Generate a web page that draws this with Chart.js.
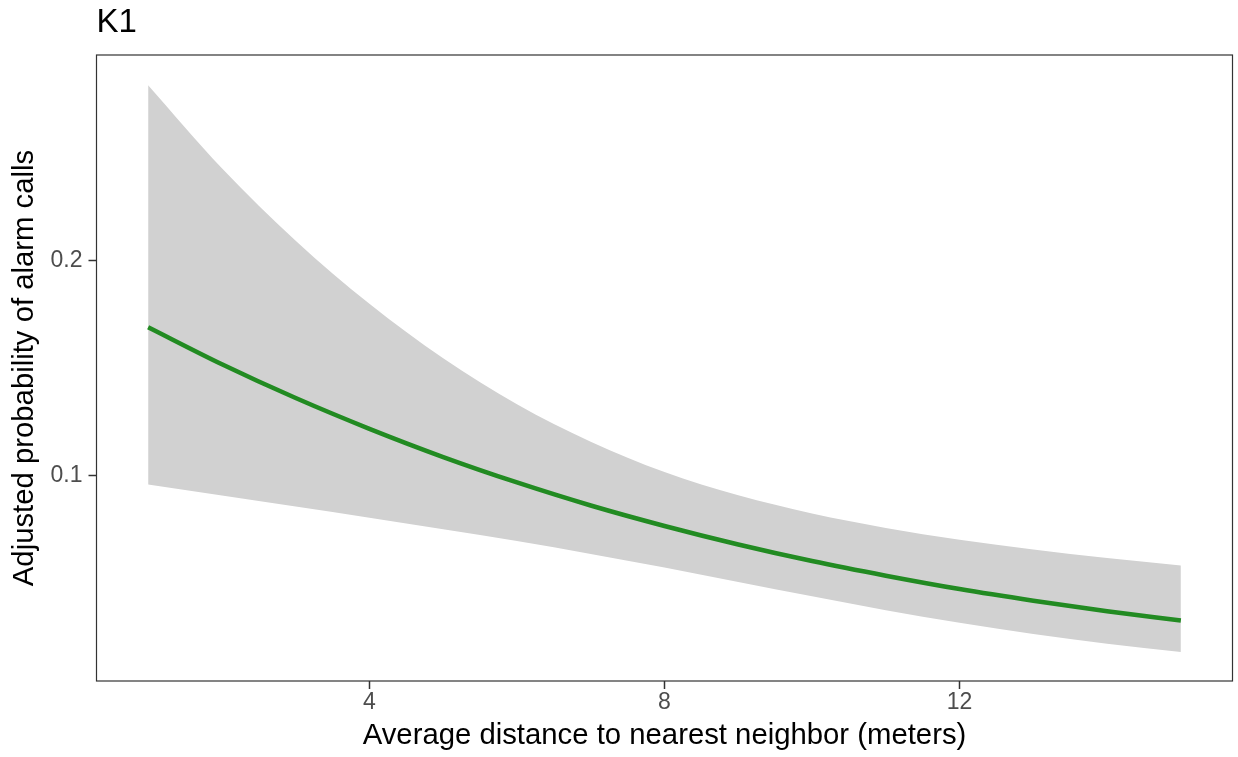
<!DOCTYPE html>
<html>
<head>
<meta charset="utf-8">
<title>K1</title>
<script src="https://cdn.jsdelivr.net/npm/chart.js@4.4.1/dist/chart.umd.min.js"></script>
<style>
  html, body { margin: 0; padding: 0; background: #ffffff; }
  canvas { display: block; }
</style>
</head>
<body>
<canvas id="chart_k1" width="1238" height="757"></canvas>
<script>
// values
var distance = [1, 2, 3, 4, 5, 6, 7, 8, 9, 10, 11, 12, 13, 14, 15];
var probFit = [0.1691, 0.1519, 0.1362, 0.1219, 0.1088, 0.0970, 0.0863, 0.0768, 0.0682, 0.0605, 0.0537, 0.0475, 0.0421, 0.0372, 0.0329];
var probUpper = [0.2815, 0.2429, 0.2093, 0.1800, 0.1547, 0.1333, 0.1159, 0.1018, 0.0910, 0.0826, 0.0759, 0.0704, 0.0659, 0.0619, 0.0584];
var probLower = [0.0960, 0.0909, 0.0858, 0.0806, 0.0753, 0.0698, 0.0638, 0.0575, 0.0508, 0.0441, 0.0377, 0.0318, 0.0266, 0.0221, 0.0183];
var xTicks = [4, 8, 12];
var yTicks = [0.1, 0.2];

var fontFamily = '"Liberation Sans", Arial, Helvetica, sans-serif';

function toPoints(ys) {
    return distance.map(function (d, i) { return { x: d, y: ys[i] }; });
}

// panel border like ggplot's theme_bw
var panelBorder = {
    id: 'panelBorder',
    afterDatasetsDraw: function (chart) {
        var a = chart.chartArea;
        var c = chart.ctx;
        c.save();
        c.strokeStyle = '#333333';
        c.lineWidth = 1.2;
        c.strokeRect(a.left, a.top, a.right - a.left, a.bottom - a.top);
        c.restore();
    }
};

var ctx = document.getElementById('chart_k1').getContext('2d');
var chart = new Chart(ctx, {
    type: 'line',

    data: {
        datasets: [{
            label: 'Fit',
            data: toPoints(probFit),
            borderColor: '#228B22',
            borderWidth: 4.5,
            pointRadius: 0,
            fill: false,
            cubicInterpolationMode: 'monotone'
        }, {
            label: 'Upper',
            data: toPoints(probUpper),
            borderWidth: 0,
            borderColor: 'rgba(0,0,0,0)',
            backgroundColor: '#d1d1d1',
            pointRadius: 0,
            fill: '+1',
            cubicInterpolationMode: 'monotone'
        }, {
            label: 'Lower',
            data: toPoints(probLower),
            borderWidth: 0,
            borderColor: 'rgba(0,0,0,0)',
            pointRadius: 0,
            fill: false,
            cubicInterpolationMode: 'monotone'
        }]
    },

    options: {
        responsive: false,
        animation: false,
        devicePixelRatio: 1,
        layout: {
            padding: { left: 0, right: 5.5, top: 0, bottom: 0 }
        },
        plugins: {
            legend: { display: false },
            tooltip: { enabled: false },
            title: {
                display: true,
                text: 'K1',
                align: 'start',
                fullSize: false,
                color: '#000000',
                font: { family: fontFamily, size: 33, weight: 'normal', lineHeight: 1.2 },
                padding: { top: 3, bottom: 12.4 }
            }
        },
        scales: {
            x: {
                type: 'linear',
                min: 0.3,
                max: 15.7,
                afterBuildTicks: function (scale) {
                    scale.ticks = xTicks.map(function (v) { return { value: v }; });
                },
                afterFit: function (scale) { scale.height = 76; },
                border: { display: false },
                grid: {
                    drawOnChartArea: false,
                    drawTicks: true,
                    tickLength: 8,
                    tickColor: '#333333',
                    tickWidth: 1.5
                },
                ticks: {
                    color: '#4d4d4d',
                    padding: 0,
                    maxRotation: 0,
                    font: { family: fontFamily, size: 23 },
                    callback: function (v) { return String(v); }
                },
                title: {
                    display: true,
                    text: 'Average distance to nearest neighbor (meters)',
                    color: '#000000',
                    font: { family: fontFamily, size: 29.3, lineHeight: 1.2 },
                    padding: { top: 0, bottom: 3.5 }
                }
            },
            y: {
                type: 'linear',
                min: 0.0048,
                max: 0.2955,
                afterBuildTicks: function (scale) {
                    scale.ticks = yTicks.map(function (v) { return { value: v }; });
                },
                afterFit: function (scale) { scale.width = 96.5; },
                border: { display: false },
                grid: {
                    drawOnChartArea: false,
                    drawTicks: true,
                    tickLength: 8,
                    tickColor: '#333333',
                    tickWidth: 1.5
                },
                ticks: {
                    color: '#4d4d4d',
                    padding: 6,
                    font: { family: fontFamily, size: 23 },
                    callback: function (v) { return v.toFixed(1); }
                },
                title: {
                    display: true,
                    text: 'Adjusted probability of alarm calls',
                    color: '#000000',
                    font: { family: fontFamily, size: 29.3, lineHeight: 1.2 },
                    padding: { top: 7.6, bottom: 0 }
                }
            }
        }
    },
    plugins: [panelBorder]
});
</script>
</body>
</html>
